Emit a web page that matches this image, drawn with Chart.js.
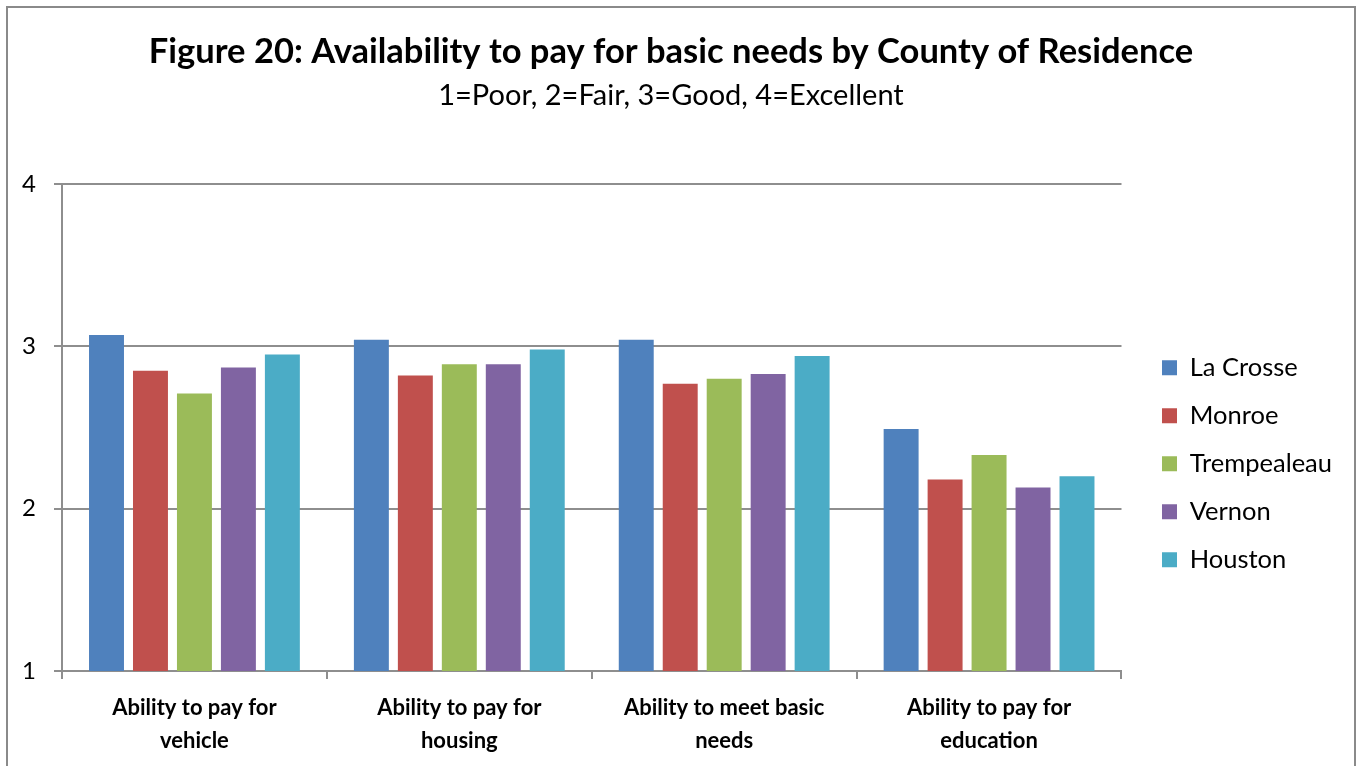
<!DOCTYPE html>
<html>
<head>
<meta charset="utf-8">
<script src="https://cdn.jsdelivr.net/npm/chart.js@4.4.0/dist/chart.umd.min.js"></script>
<style>
  body { margin: 0; background: #fff; }
  #wrap { position: relative; width: 1359px; height: 766px; overflow: hidden; }
  #frame { position: absolute; left: 6px; top: 6px; width: 1346px; height: 800px;
           border: 2px solid #8a8a8a; border-bottom: none; pointer-events: none; }
  canvas { position: absolute; left: 0; top: 0; }
</style>
</head>
<body>
<div id="wrap">
  <canvas id="chart" width="1359" height="766"></canvas>
  <div id="frame"></div>
</div>
<script>
// categories (two-line labels like the original)
const categories = [
    ['Ability to pay for', 'vehicle'],
    ['Ability to pay for', 'housing'],
    ['Ability to meet basic', 'needs'],
    ['Ability to pay for', 'education']
];

// mean scores per county (1=Poor ... 4=Excellent)
const laCrosse    = [3.07, 3.04, 3.04, 2.49];
const monroe      = [2.85, 2.82, 2.77, 2.18];
const trempealeau = [2.71, 2.89, 2.80, 2.33];
const vernon      = [2.87, 2.89, 2.83, 2.13];
const houston     = [2.95, 2.98, 2.94, 2.20];

const yTicks = [1, 2, 3, 4];

const titleText = 'Figure 20: Availability to pay for basic needs by County of Residence';
const subtitleText = '1=Poor, 2=Fair, 3=Good, 4=Excellent';

Chart.defaults.font.family = 'Lato';
Chart.defaults.color = '#000';

const gridGray = '#8e8e8e';

function makeSet(label, data, color) {
    return {
        label: label,
        data: data,
        backgroundColor: color,
        borderWidth: 0,
        categoryPercentage: 0.83,
        barPercentage: 0.795
    };
}

const ctx = document.getElementById('chart').getContext('2d');

new Chart(ctx, {
    type: 'bar',
    data: {
        labels: categories,
        datasets: [
            makeSet('La Crosse', laCrosse, '#4F81BD'),
            makeSet('Monroe', monroe, '#C0504D'),
            makeSet('Trempealeau', trempealeau, '#9BBB59'),
            makeSet('Vernon', vernon, '#8064A2'),
            makeSet('Houston', houston, '#4BACC6')
        ]
    },
    options: {
        responsive: false,
        animation: false,
        layout: { padding: { left: 0, right: 17, top: 0, bottom: 0 } },
        plugins: {
            title: {
                display: true,
                text: titleText,
                font: { size: 34.5, weight: 'bold', lineHeight: 1.2 },
                padding: { top: 31.3, bottom: 5.2 }
            },
            subtitle: {
                display: true,
                text: subtitleText,
                font: { size: 29, lineHeight: 1.2 },
                padding: { top: 0, bottom: 71.3 }
            },
            legend: {
                position: 'right',
                align: 'start',
                fullSize: false,
                title: {
                    display: true,
                    text: ' ',
                    font: { size: 10, lineHeight: 1 },
                    padding: { top: 138.5, bottom: 0 }
                },
                labels: {
                    boxWidth: 15,
                    boxHeight: 15,
                    padding: 22.5,
                    font: { size: 25.5 }
                }
            },
            tooltip: { enabled: false }
        },
        scales: {
            x: {
                grid: {
                    display: true,
                    offset: true,
                    drawOnChartArea: false,
                    tickLength: 8,
                    color: gridGray,
                    lineWidth: 2
                },
                border: { display: true, color: gridGray, width: 2 },
                ticks: {
                    font: { size: 22, weight: 'bold', lineHeight: 1.5 },
                    padding: 12,
                    maxRotation: 0,
                    autoSkip: false
                },
                afterFit: function (scale) { scale.height = 95; }
            },
            y: {
                min: 1,
                max: 4,
                afterBuildTicks: function (scale) {
                    scale.ticks = yTicks.map(v => ({ value: v }));
                },
                grid: {
                    color: gridGray,
                    lineWidth: 2,
                    tickLength: 8
                },
                border: { display: true, color: gridGray, width: 2 },
                ticks: {
                    font: { size: 24 },
                    padding: 18
                },
                afterFit: function (scale) { scale.width = 62; }
            },
            // empty spacer between plot and legend
            gap: {
                type: 'linear',
                position: 'right',
                display: true,
                grid: { display: false },
                ticks: { display: false },
                border: { display: false },
                afterFit: function (scale) { scale.width = 18; }
            }
        }
    }
});
</script>
</body>
</html>
